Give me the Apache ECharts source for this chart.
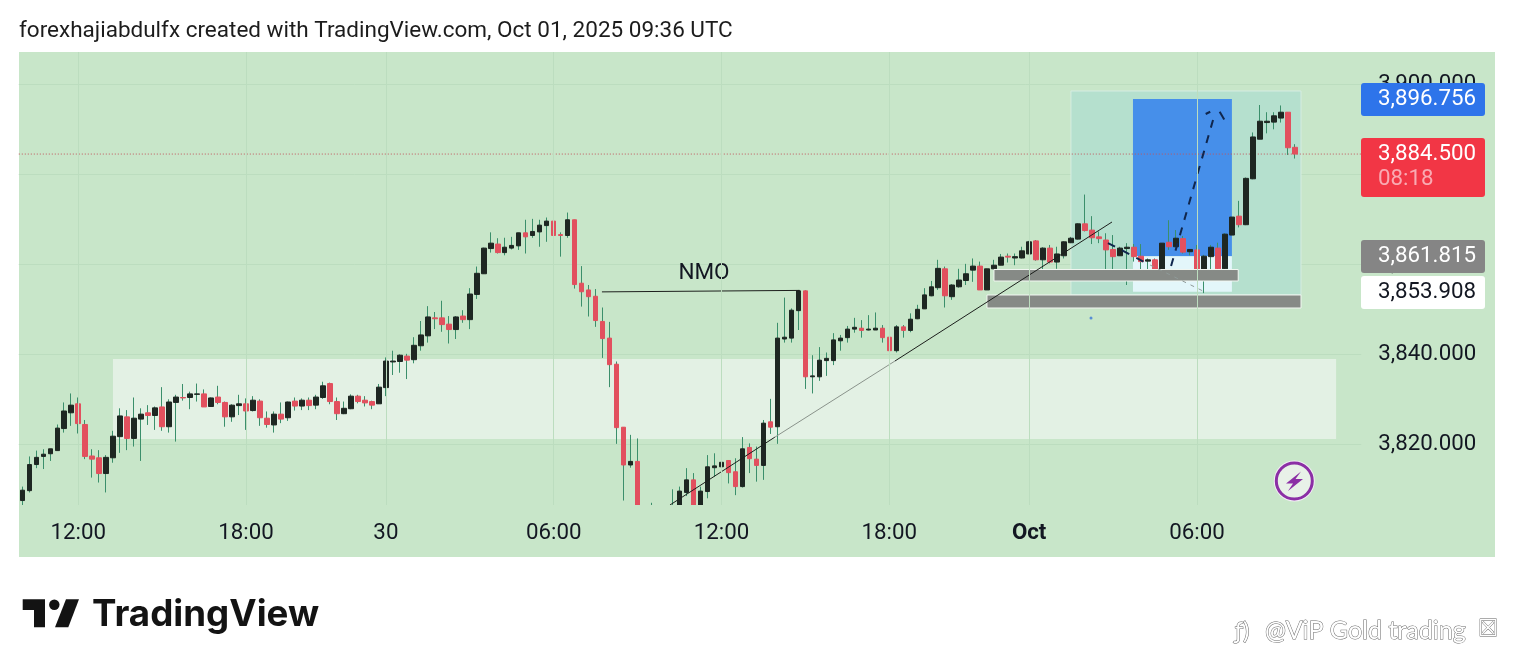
<!DOCTYPE html>
<html><head><meta charset="utf-8">
<style>html,body{margin:0;padding:0;background:#fff}#c{width:1514px;height:671px}</style>
<script src="https://cdn.jsdelivr.net/npm/echarts@6/dist/echarts.min.js"></script>
</head><body><div id="c"></div>
<script>
const opens=[3807.5,3809.7,3815.5,3817.3,3817.9,3818.6,3823.5,3827.0,3829.0,3824.4,
3817.4,3817.0,3813.5,3817.0,3821.7,3826.1,3821.3,3825.6,3827.0,3826.4,
3828.3,3823.9,3829.3,3830.4,3830.4,3831.1,3831.2,3828.4,3830.5,3829.3,
3826.1,3828.6,3829.0,3827.5,3829.6,3825.8,3824.3,3826.7,3825.9,3829.6,
3828.5,3829.8,3828.7,3830.4,3833.5,3829.5,3826.8,3827.9,3830.7,3829.8,
3829.5,3829.0,3832.6,3838.3,3838.4,3839.6,3838.8,3841.9,3844.1,3848.1,
3848.1,3846.7,3845.5,3848.5,3847.7,3853.3,3857.9,3863.5,3864.5,3862.6,
3863.6,3864.1,3867.0,3866.4,3867.2,3868.6,3869.6,3866.6,3866.4,3869.9,
3855.8,3854.3,3852.9,3847.3,3843.6,3837.8,3823.8,3815.4,3816.2,3804.0,
3803,3800,3802,3803,3805,3809.3,3812.1,3806,3809.5,3814.8,
3815.0,3816.4,3813.9,3810.6,3819.3,3816.7,3815.3,3825.0,3823.9,3843.4,
3843.6,3849.7,3854.1,3835.0,3835.0,3838.6,3838.6,3843.0,3843.7,3845.6,
3845.8,3845.4,3845.4,3845.8,3843.8,3840.8,3846.1,3845.3,3847.9,3850.1,
3853.0,3854.8,3859.0,3852.8,3855.0,3856.4,3858.7,3859.6,3854.3,3859.0,
3859.8,3861.8,3861.4,3861.4,3862.3,3865.2,3861.0,3863.6,3860.5,3861.9,
3864.8,3865.6,3869.0,3867.6,3866.1,3865.4,3863.3,3861.9,3863.5,3863.8,
3861.8,3860.7,3861.0,3858.6,3864.9,3863.9,3865.7,3862.8,3863.2,3858.5,
3861.7,3863.6,3859.0,3866.5,3870.7,3868.8,3879.0,3887.8,3891.5,3891.6,
3892.5,3893.8,3886.0];
const closes=[3809.8,3815.5,3817.1,3817.8,3819.0,3823.6,3827.4,3828.7,3824.6,3817.3,
3816.7,3813.5,3817.1,3821.8,3826.3,3821.3,3825.8,3826.7,3826.4,3828.1,
3823.9,3829.4,3830.5,3830.3,3831.2,3831.2,3828.3,3830.3,3829.3,3826.1,
3828.7,3829.0,3827.4,3829.8,3825.9,3824.4,3826.7,3825.6,3829.4,3828.5,
3829.8,3828.6,3830.5,3833.0,3829.5,3826.8,3828.0,3830.7,3829.5,3829.2,
3828.7,3832.7,3838.5,3838.5,3839.8,3838.7,3842.0,3844.3,3848.3,3847.9,
3846.6,3845.5,3848.3,3847.7,3853.4,3858.0,3863.6,3864.7,3862.6,3863.8,
3864.2,3867.0,3866.1,3867.3,3868.7,3869.6,3866.4,3866.4,3869.9,3855.5,
3853.9,3852.8,3847.5,3843.5,3837.7,3823.7,3815.4,3816.2,3804.0,3801,
3800,3802,3803,3805,3809.6,3812.1,3806.5,3809.6,3815.0,3815.2,
3816.0,3813.7,3810.6,3819.0,3816.8,3815.3,3824.7,3823.8,3843.6,3843.8,
3849.8,3854.1,3835.0,3835.2,3838.7,3839.1,3843.2,3843.6,3845.6,3846.0,
3845.3,3845.6,3845.8,3843.7,3840.8,3846.1,3845.3,3847.8,3850.0,3853.2,
3855.0,3859.1,3853.0,3855.4,3856.5,3857.9,3859.6,3854.3,3859.0,3859.8,
3861.6,3861.6,3861.7,3863.0,3865.0,3861.0,3863.6,3860.5,3862.3,3865.0,
3865.8,3869.0,3867.5,3865.9,3865.7,3863.2,3861.7,3863.6,3863.8,3861.7,
3860.6,3861.0,3858.6,3864.7,3863.9,3865.8,3862.7,3863.3,3858.4,3861.8,
3863.8,3859.0,3866.7,3870.5,3868.8,3879.1,3888.3,3891.8,3891.8,3893.0,
3893.8,3885.9,3884.5];
const lows=[3806.5,3809.3,3814.7,3814.5,3816.3,3818.6,3822.6,3824.1,3822.4,3816.7,
3812.6,3811.5,3809.3,3815.9,3818.1,3818.7,3819.5,3816.3,3824.3,3823.2,
3823.0,3822.6,3820.6,3829.7,3827.8,3829.5,3828.3,3828.4,3828.9,3823.9,
3825.0,3826.5,3823.2,3827.3,3824.1,3823.7,3822.6,3824.7,3825.2,3827.5,
3827.6,3827.6,3827.8,3830.1,3828.9,3825.4,3826.7,3827.8,3829.1,3828.4,
3827.8,3829.0,3830.7,3835.4,3835.9,3834.5,3838.0,3840.8,3842.6,3845.6,
3845.0,3842.4,3843.4,3847.0,3845.6,3852.3,3857.9,3862.6,3862.4,3862.0,
3863.3,3863.2,3862.4,3865.9,3863.9,3865.0,3866.3,3861.7,3865.9,3854.6,
3850.6,3848.4,3846.1,3839.2,3832.7,3820.1,3807.5,3814.8,3802.0,3800,
3799,3799,3800,3802,3804,3808.5,3806,3805.5,3808.0,3812.8,
3810.6,3811.3,3808.7,3810.4,3813.6,3811.7,3812.1,3822.3,3820.1,3842.6,
3842.6,3845.4,3832.3,3831.3,3834.1,3835.2,3837.6,3840.8,3842.6,3844.8,
3843.7,3845.3,3845.4,3842.6,3839.6,3840.4,3843.7,3844.9,3847.8,3850.1,
3852.9,3854.3,3850.4,3852.1,3854.8,3855.4,3856.1,3854.3,3854.3,3858.9,
3859.8,3860.4,3859.8,3861.3,3862.3,3860.8,3858.7,3860.2,3859.0,3861.3,
3864.7,3865.5,3867.3,3864.5,3864.7,3858.4,3858.4,3861.9,3855.4,3860.6,
3858.2,3858.4,3857.3,3858.6,3863.2,3863.8,3862.4,3862.0,3858.3,3853.6,
3858.7,3857.6,3858.9,3866.5,3868.2,3868.7,3878.9,3887.8,3889.1,3890.0,
3891.5,3884.3,3883.5];
const highs=[3810.6,3817.3,3818.6,3818.9,3819.0,3824.4,3829.3,3831.3,3830.4,3825.4,
3818.9,3818.7,3817.6,3823.0,3828.0,3827.6,3830.4,3828.0,3828.7,3828.4,
3832.7,3830.0,3831.0,3833.4,3831.7,3833.5,3832.2,3830.4,3833.0,3829.5,
3828.9,3831.0,3830.2,3830.7,3830.0,3827.3,3827.3,3829.3,3829.5,3830.4,
3830.2,3830.4,3831.0,3833.9,3833.7,3830.4,3829.5,3831.1,3831.0,3830.7,
3829.7,3833.4,3839.3,3840.8,3840.0,3840.1,3843.8,3847.4,3850.7,3849.4,
3851.9,3848.5,3848.5,3849.8,3854.7,3859.5,3863.7,3867.1,3865.8,3865.9,
3866.1,3867.0,3869.9,3870.1,3869.9,3870.4,3871.9,3867.1,3871.5,3869.9,
3859.6,3855.4,3854.5,3850.4,3847.2,3838.4,3823.8,3822.1,3821.3,3805,
3807,3804,3805,3810.0,3810.6,3814.7,3813.6,3810.6,3817.6,3818.0,
3817.6,3816.5,3816.9,3821.6,3820.2,3819.5,3825.4,3830.1,3847.0,3852.6,
3850.2,3854.3,3854.2,3839.8,3841.6,3840.4,3844.7,3844.3,3846.3,3848.1,
3847.6,3848.7,3849.3,3846.5,3845.0,3846.5,3846.5,3849.1,3851.0,3854.7,
3856.3,3861.0,3859.5,3855.6,3859.0,3860.1,3861.3,3860.6,3859.0,3861.0,
3862.3,3862.4,3862.4,3863.9,3865.2,3865.4,3863.8,3864.3,3863.9,3865.1,
3866.1,3869.1,3875.5,3870.7,3867.3,3866.9,3866.5,3863.9,3864.7,3864.5,
3864.5,3861.3,3861.3,3864.7,3869.8,3867.6,3866.3,3863.4,3864.3,3862.1,
3864.3,3864.8,3866.9,3870.5,3874.1,3879.3,3889.3,3895.4,3893.8,3893.8,
3895.3,3893.8,3886.7];

// Time axis: bar index -> label
const timeTicks={8:'12:00',32:'18:00',52:'30',76:'06:00',100:'12:00',124:'18:00',144:'Oct',168:'06:00'};
const barSlots=192;
const categories=Array.from({length:barSlots},(_,i)=>timeTicks[i]||'');
const priceTicks=[3820,3840,3860,3880,3900];
const lastPrice=3884.5;

// Drawing tools, in [barStart, barEnd, priceTop, priceBottom]
const demandZone=[[12.97,187.9,3838.96,3821.18]];
const setupBox=[[149.98,182.88,3898.51,3853.18]];
const targetBox=[[158.85,173.0,3896.756,3861.815]];
const stopBox=[[158.85,173.0,3861.815,3853.908]];
const greyBars=[[138.97,173.9,3858.84,3856.29],[137.97,182.88,3853.18,3850.29]];
// Lines, in [barA, priceA, barB, priceB]
const trendDark=[[92.63,3806.51,107.64,3821.6],[124.8,3838.5,155.85,3869.4]];
const trendFaded=[[107.64,3821.6,124.8,3838.5]];
const nmoLine=[[82.9,3853.87,111.2,3854.2]];
const pathDashed=[[155.27,3864.73,161.3,3859.84],[164.3,3859.62,170.3,3892.07]];
const pathStops=[[169.25,3893.4,169.9,3893.9],[171.25,3893.9,171.9,3892.2]];
const pathFaint=[[161.3,3859.84,168.86,3854.07]];
const lastLine=[[-0.5,lastPrice,191.5,lastPrice]];
const nmoLabel=[[97.5,3857.9,'NMO']];
const strayDots=[[152.85,3848.06]];
// Price tags: [price, text, countdown]
const priceTags=[[3896.756,'3,896.756','','#2e74ea','#ffffff',83,116],
 [3884.5,'3,884.500','08:18','#f23645','#ffffff',138,197],
 [3861.815,'3,861.815','','#858585','#ffffff',240,273],
 [3853.908,'3,853.908','','#ffffff','#131722',276,309]];

const F='Roboto, sans-serif';
const yMin=3806.51,yMax=3907.18;
const ohlcWick=opens.map((o,i)=>[o,closes[i],lows[i],highs[i]]);
const ohlcBody=opens.map((o,i)=>[o,closes[i],Math.min(o,closes[i]),Math.max(o,closes[i])]);

function rectSeries(rows,fill,z,stroke){
  return {type:'custom',xAxisIndex:1,yAxisIndex:0,z,silent:true,
    dimensions:[{name:'a',type:'number'},{name:'b',type:'number'},{name:'c',type:'number'},{name:'d',type:'number'}],
    encode:{x:0,y:2},data:rows,
    renderItem(p,api){
      const a=api.coord([api.value(0),api.value(2)]),b=api.coord([api.value(1),api.value(3)]);
      return {type:'rect',shape:{x:a[0],y:a[1],width:b[0]-a[0],height:b[1]-a[1]},
        style:{fill,stroke:stroke||null,lineWidth:stroke?1:0}};
    }};
}
function lineSeries(rows,stroke,width,z,dash){
  return {type:'custom',xAxisIndex:1,yAxisIndex:0,z,silent:true,
    dimensions:[{name:'a',type:'number'},{name:'b',type:'number'},{name:'c',type:'number'},{name:'d',type:'number'}],
    encode:{x:0,y:1},data:rows,
    renderItem(p,api){
      const a=api.coord([api.value(0),api.value(1)]),b=api.coord([api.value(2),api.value(3)]);
      return {type:'line',shape:{x1:a[0],y1:a[1],x2:b[0],y2:b[1]},
        style:{stroke,lineWidth:width,lineDash:dash||null,fill:null}};
    }};
}

const chart=echarts.init(document.getElementById('c'),null,{renderer:'canvas'});
chart.setOption({
  animation:false,
  backgroundColor:'#ffffff',
  title:{text:'forexhajiabdulfx created with TradingView.com, Oct 01, 2025 09:36 UTC',left:19,top:20,padding:0,
    textStyle:{fontFamily:F,fontSize:22.5,fontWeight:400,color:'#1c1c1c'}},
  grid:{left:18.8,top:52,width:6.992*barSlots,height:453,show:false},
  xAxis:[{type:'category',data:categories,boundaryGap:true,z:10,
      axisLine:{show:false},axisTick:{show:false},
      splitLine:{show:true,alignWithLabel:true,interval:(i,v)=>v!=='',lineStyle:{color:'#bcddbf',width:1}},
      axisLabel:{interval:(i,v)=>v!=='',margin:17,fontFamily:F,fontSize:22.3,color:'#131722',
        formatter:v=>v==='Oct'?'{b|Oct}':v,rich:{b:{fontFamily:F,fontSize:22.3,fontWeight:700,color:'#131722'}}}},
    {type:'value',min:-0.5,max:barSlots-0.5,show:false,splitLine:{show:false}}],
  yAxis:[{type:'value',position:'right',min:yMin,max:yMax,scale:true,
    axisLine:{show:false},
    axisTick:{show:false,customValues:priceTicks},
    splitLine:{show:true,lineStyle:{color:'#bcddbf',width:1}},
    axisLabel:{customValues:priceTicks,margin:17,fontFamily:F,fontSize:22.3,color:'#131722',
      showMinLabel:true,showMaxLabel:true,
      formatter:v=>v.toLocaleString('en-US',{minimumFractionDigits:3,maximumFractionDigits:3})}}],
  graphic:[
    {type:'rect',z:-10,silent:true,shape:{x:19,y:52,width:1476,height:505},style:{fill:'#c8e6c9'}},
    // pane ends here: the time scale strip hides anything below the lowest visible price
    {type:'rect',z:9,silent:true,shape:{x:19,y:505,width:1345,height:52},style:{fill:'#c8e6c9'}},
    {type:'circle',z:50,silent:true,shape:{cx:1294.3,cy:481,r:20.5},style:{fill:'#f3edf6'}},
    {type:'circle',z:51,silent:true,shape:{cx:1294.3,cy:481,r:18},style:{fill:'#e8f1e8',stroke:'#8b2fa5',lineWidth:3}},
    {type:'polygon',z:52,silent:true,shape:{points:[[1301,471.5],[1286,483.5],[1293,483.5],[1288,491],[1303,479],[1295.5,479]]},style:{fill:'#8b2fa5'}},
    {type:'polygon',z:52,silent:true,shape:{points:[[22.7,599.3],[45,599.3],[45,627.3],[34,627.3],[34,610],[22.7,610]]},style:{fill:'#131313'}},
    {type:'circle',z:52,silent:true,shape:{cx:54.3,cy:604.7,r:5.2},style:{fill:'#131313'}},
    {type:'polygon',z:52,silent:true,shape:{points:[[66,599.3],[79,599.3],[68.3,627.3],[55,627.3]]},style:{fill:'#131313'}},
    {type:'text',z:52,silent:true,style:{x:92,y:615,text:'TradingView',fontFamily:'Inter, sans-serif',fontSize:36.7,fontWeight:700,fill:'#131313',textVerticalAlign:'middle'}},
    {type:'text',z:52,silent:true,style:{x:1235,y:631,text:'ƒ)',fontFamily:'Lato, sans-serif',fontSize:24,fill:'#ffffff',stroke:'#5f5f5f',lineWidth:1,textVerticalAlign:'middle'}},
    {type:'text',z:52,silent:true,style:{x:1265,y:631,text:'@ViP Gold trading',fontFamily:'Lato, sans-serif',fontSize:25,letterSpacing:1,fill:'#ffffff',stroke:'#6a6a6a',lineWidth:1,textVerticalAlign:'middle'}},
    {type:'text',z:52,silent:true,style:{x:1478,y:630,text:'☒',fontFamily:'DejaVu Sans, sans-serif',fontSize:23,fill:'#ffffff',stroke:'#5f5f5f',lineWidth:0.8,textVerticalAlign:'middle'}}
  ],
  series:[
    rectSeries(demandZone,'#e3f1e4',1),
    rectSeries(setupBox,'#b5e0ce',2,'#d6ece2'),
    rectSeries(targetBox,'#468fea',3),
    rectSeries(stopBox,'#e3f6fa',3),
    lineSeries(lastLine,'#c2555c',1,3,[1,2]),
    {name:'wicks',type:'candlestick',xAxisIndex:0,yAxisIndex:0,z:4,barWidth:1,data:ohlcWick,silent:true,clip:true,
      itemStyle:{color:'#3b8f6b',color0:'#3b8f6b',borderColor:'#3b8f6b',borderColor0:'#3b8f6b',borderWidth:1}},
    {name:'bodies',type:'candlestick',xAxisIndex:0,yAxisIndex:0,z:5,barWidth:5,data:ohlcBody,silent:true,clip:true,
      itemStyle:{color:'#1e2722',color0:'#e2505e',borderColor:'#1e2722',borderColor0:'#e2505e',borderWidth:1}},
    rectSeries(greyBars,'#868a86',6,'#f2f7f2'),
    lineSeries(trendDark,'#1c1f1c',1,7),
    lineSeries(trendFaded,'#8a938b',1,7),
    lineSeries(nmoLine,'#1c1f1c',1,7),
    lineSeries(pathDashed,'#10264d',2,8,[8,8]),
    lineSeries(pathStops,'#10264d',2,8),
    lineSeries(pathFaint,'#8f9a98',1,7,[4,5]),
    {type:'custom',xAxisIndex:1,yAxisIndex:0,z:8,silent:true,encode:{x:0,y:1},
      dimensions:[{name:'a',type:'number'},{name:'b',type:'number'},{name:'t',type:'ordinal'}],
      data:nmoLabel,
      renderItem(p,api){const c=api.coord([api.value(0),api.value(1)]);
        return {type:'text',style:{x:c[0],y:c[1],text:nmoLabel[p.dataIndex][2],fontFamily:F,fontSize:22.5,fill:'#131722',textAlign:'center',textVerticalAlign:'middle'}};}},
    {type:'scatter',xAxisIndex:1,yAxisIndex:0,z:8,symbolSize:3,data:strayDots,silent:true,itemStyle:{color:'#3c78d8'}},
    {type:'custom',xAxisIndex:1,yAxisIndex:0,z:20,silent:true,clip:false,encode:{x:0,y:1},
      dimensions:[{name:'a',type:'number'},{name:'b',type:'number'}],
      data:priceTags.map(t=>[0,t[0]]),
      renderItem(p,api){
        const t=priceTags[p.dataIndex];
        const kids=[{type:'rect',shape:{x:1361,y:t[5],width:124,height:t[6]-t[5],r:3},style:{fill:t[3]}},
          {type:'text',style:{x:1378,y:t[5]+16,text:t[1],fontFamily:F,fontSize:22.3,fill:t[4],textVerticalAlign:'middle'}}];
        if(t[2])kids.push({type:'text',style:{x:1378,y:t[5]+41,text:t[2],fontFamily:F,fontSize:22.3,fill:'#f9aab2',textVerticalAlign:'middle'}});
        return {type:'group',children:kids};
      }}
  ]
});
</script></body></html>
